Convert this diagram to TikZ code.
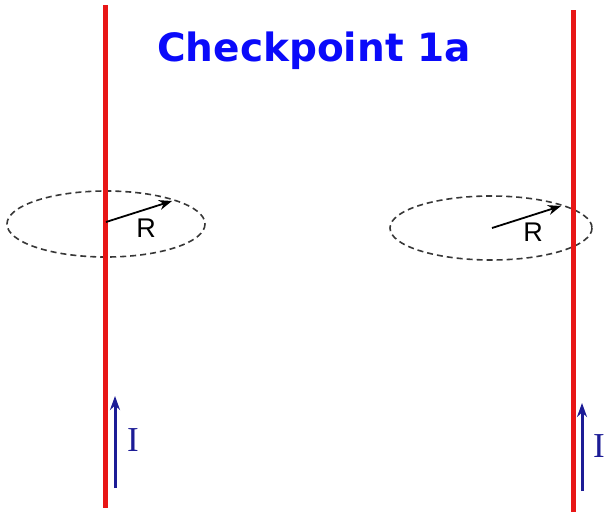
\documentclass[tikz,border=0pt]{standalone}
\usepackage{fontspec}
\setmainfont{Liberation Serif}
\setsansfont{Liberation Sans}
\newfontfamily\titlefont{DejaVu Sans}
\usetikzlibrary{arrows.meta, calc}
\definecolor{wirered}{RGB}{232, 22, 22}
\definecolor{titleblue}{RGB}{10, 10, 250}
\definecolor{currblue}{RGB}{28, 28, 150}
\definecolor{loopgray}{RGB}{55, 55, 55}

\begin{document}
\begin{tikzpicture}[x=1pt, y=-1pt,
  wire/.style={wirered, line width=5pt},
  loop/.style={loopgray, dashed, line width=1.6pt, dash pattern=on 6pt off 4pt},
  radius arrow/.style={black, line width=1.8pt, -{Stealth[length=13pt, width=10pt]}},
  current arrow/.style={currblue, line width=3pt, -{Stealth[length=14pt, width=10pt]}},
  rlabel/.style={font=\sffamily\fontsize{27}{27}\selectfont},
  ilabel/.style={font=\rmfamily\fontsize{35}{35}\selectfont, currblue}]
  \useasboundingbox (0,0) rectangle (607,512);

  % title
  \node[titleblue, font=\titlefont\bfseries\fontsize{39}{39}\selectfont] (title) at (314,51) {Checkpoint 1a};

  % left wire, loop centred on it
  \draw[loop] (106,224) ellipse [x radius=99, y radius=33];
  \coordinate (wireLtop) at (105,5);
  \coordinate (wireLbot) at (105,508);
  \draw[wire] (wireLtop) -- (wireLbot);
  \coordinate (centerL) at (106,222);
  \coordinate (rimL) at (172,201);
  \draw[radius arrow] (centerL) -- (rimL);
  \node[rlabel] (radL) at (146,228) {R};
  \coordinate (curLfrom) at (115,488);
  \coordinate (curLto) at (115,396);
  \draw[current arrow] (curLfrom) -- (curLto);
  \node[ilabel] (curL) at (133,440) {I};

  % right wire, loop off to one side
  \draw[loop] (491,228) ellipse [x radius=101, y radius=32];
  \coordinate (wireRtop) at (573,10);
  \coordinate (wireRbot) at (573,512);
  \draw[wire] (wireRtop) -- (wireRbot);
  \coordinate (centerR) at (492,228);
  \coordinate (rimR) at (561,206);
  \draw[radius arrow] (centerR) -- (rimR);
  \node[rlabel] (radR) at (533,232) {R};
  \coordinate (curRfrom) at (582,491);
  \coordinate (curRto) at (582,403);
  \draw[current arrow] (curRfrom) -- (curRto);
  \node[ilabel] (curR) at (599,446) {I};
\end{tikzpicture}
\end{document}
